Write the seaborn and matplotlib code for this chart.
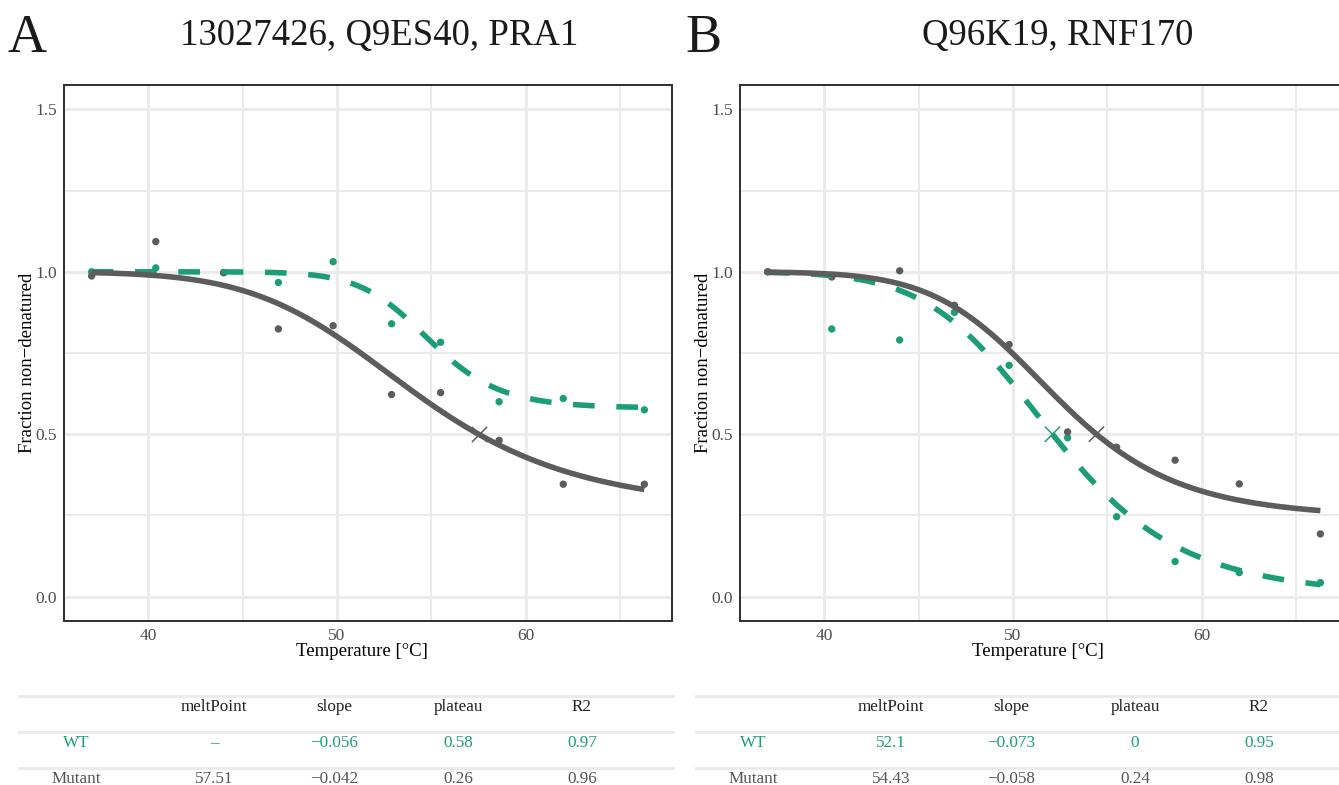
import numpy as np
import pandas as pd
import matplotlib
matplotlib.use("Agg")
import matplotlib.pyplot as plt
import seaborn as sns
from matplotlib.ticker import FixedLocator

# ---------------------------------------------------------------- data
temperature = [37.0, 40.4, 44.0, 46.9, 49.8, 52.9, 55.5, 58.6, 62.0, 66.3]

# Panel A: 13027426, Q9ES40, PRA1
a_wt = [1.000, 1.012, 0.998, 0.967, 1.031, 0.840, 0.783, 0.600, 0.610, 0.575]
a_mutant = [0.987, 1.093, 0.997, 0.824, 0.834, 0.622, 0.628, 0.481, 0.346, 0.346]

# Panel B: Q96K19, RNF170
b_wt = [1.000, 0.824, 0.790, 0.875, 0.712, 0.489, 0.246, 0.108, 0.074, 0.043]
b_mutant = [1.000, 0.984, 1.003, 0.897, 0.776, 0.507, 0.460, 0.420, 0.347, 0.193]

genotypes = ["WT", "Mutant"]

# melting-curve fit summaries (WT, Mutant)
a_melt_point = [None, 57.51]
a_slope = [-0.056, -0.042]
a_plateau = [0.58, 0.26]
a_r2 = [0.97, 0.96]
a_wt_inflection = 54.9  # WT never reaches 0.5, curve anchored at its inflection

b_melt_point = [52.1, 54.43]
b_slope = [-0.073, -0.058]
b_plateau = [0.0, 0.24]
b_r2 = [0.95, 0.98]

panel_titles = ["13027426, Q9ES40, PRA1", "Q96K19, RNF170"]
panel_letters = ["A", "B"]
table_header = ["", "meltPoint", "slope", "plateau", "R2"]

# ---------------------------------------------------------------- style
GREEN = "#1B9E77"
GREY = "#5C5C5C"
GRID = "#EBEBEB"
FRAME = "#333333"
TICKTXT = "#4D4D4D"
palette = {"WT": GREEN, "Mutant": GREY}

sns.set_theme(style="white")
plt.rcParams["font.family"] = ["Liberation Serif", "DejaVu Serif"]
plt.rcParams["axes.unicode_minus"] = True

W, H = 1339, 785
fig = plt.figure(figsize=(W / 100, H / 100), dpi=100)
fig.patch.set_facecolor("white")


def px_box(left, top, right, bottom):
    return [left / W, 1 - bottom / H, (right - left) / W, (bottom - top) / H]


def sigmoid_coeffs(slope, plateau, melt=None, infl=None):
    """Coefficients a, b of pl + (1-pl)/(1+exp(b - a/T)) from the fit summary."""
    k = 4 * abs(slope) / (1 - plateau)
    if melt is not None:
        c = np.log(0.5 / (0.5 - plateau))
        infl = (melt + np.sqrt(melt ** 2 - 4 * c * melt / k)) / 2
    b = k * infl
    a = b * infl
    return a, b


def melt_curve(t, a, b, plateau):
    return plateau + (1 - plateau) / (1 + np.exp(b - a / t))


def fmt(v):
    if v is None:
        return "\u2013"
    return f"{v:g}".replace("-", "\u2212")


panels = [
    dict(wt=a_wt, mut=a_mutant, melt=a_melt_point, slope=a_slope,
         plateau=a_plateau, r2=a_r2, infl=[a_wt_inflection, None]),
    dict(wt=b_wt, mut=b_mutant, melt=b_melt_point, slope=b_slope,
         plateau=b_plateau, r2=b_r2, infl=[None, None]),
]

axes_px = [(64, 85, 672, 621), (740, 85, 1348, 621)]
table_px = [(18, 690, 675, 800), (695, 690, 1352, 800)]
title_cx = [379, 1058]
letter_x = [7, 685]
AX_W, AX_H = 608, 536

t_fine = np.linspace(min(temperature), max(temperature), 400)

for i, p in enumerate(panels):
    ax = fig.add_axes(px_box(*axes_px[i]))
    ax.set_facecolor("white")

    points = pd.DataFrame({
        "Temperature": temperature * 2,
        "Fraction": p["wt"] + p["mut"],
        "Genotype": ["WT"] * len(temperature) + ["Mutant"] * len(temperature),
    })

    curves = []
    melts = []
    for g, gen in enumerate(genotypes):
        a, b = sigmoid_coeffs(p["slope"][g], p["plateau"][g],
                              melt=p["melt"][g], infl=p["infl"][g])
        curves.append(pd.DataFrame({
            "Temperature": t_fine,
            "Fraction": melt_curve(t_fine, a, b, p["plateau"][g]),
            "Genotype": gen,
        }))
        if p["melt"][g] is not None:
            melts.append({"Temperature": p["melt"][g], "Fraction": 0.5,
                          "Genotype": gen})
    curves = pd.concat(curves, ignore_index=True)

    sns.scatterplot(data=points, x="Temperature", y="Fraction", hue="Genotype",
                    hue_order=genotypes, palette=palette, s=28, linewidth=0,
                    legend=False, ax=ax, zorder=3)
    sns.lineplot(data=curves, x="Temperature", y="Fraction", hue="Genotype",
                 style="Genotype", hue_order=genotypes, style_order=genotypes,
                 palette=palette, dashes={"WT": (3.9, 3.9), "Mutant": ""},
                 linewidth=4.0, estimator=None, sort=True, legend=False,
                 ax=ax, zorder=4)
    if melts:
        mdf = pd.DataFrame(melts)
        sns.scatterplot(data=mdf, x="Temperature", y="Fraction", hue="Genotype",
                        hue_order=genotypes, palette=palette, marker="x",
                        s=120, linewidth=1.1, legend=False, ax=ax, zorder=5)

    for line in ax.get_lines():
        line.set_solid_capstyle("butt")
        line.set_dash_capstyle("butt")

    # scales
    ax.set_xlim(35.535, 67.765)
    ax.set_ylim(-0.075, 1.575)
    ax.xaxis.set_major_locator(FixedLocator([40, 50, 60]))
    ax.xaxis.set_minor_locator(FixedLocator([45, 55, 65]))
    ax.yaxis.set_major_locator(FixedLocator([0.0, 0.5, 1.0, 1.5]))
    ax.yaxis.set_minor_locator(FixedLocator([0.25, 0.75, 1.25]))
    ax.set_yticklabels(["0.0", "0.5", "1.0", "1.5"])
    ax.grid(which="major", color=GRID, linewidth=2.2, zorder=0)
    ax.grid(which="minor", color=GRID, linewidth=1.4, zorder=0)
    ax.set_axisbelow(True)

    ax.tick_params(axis="both", which="major", direction="out", length=3.2,
                   width=1.4, color=FRAME, labelcolor=TICKTXT, labelsize=12.5,
                   pad=2)
    ax.tick_params(axis="both", which="minor", length=0)
    for s in ax.spines.values():
        s.set_visible(True)
        s.set_color(FRAME)
        s.set_linewidth(1.45)

    ax.set_xlabel("Temperature [\u00b0C]", fontsize=13.5, color="black")
    ax.set_ylabel("Fraction non\u2212denatured", fontsize=13.5, color="black")
    ax.xaxis.set_label_coords(298 / AX_W, -31 / AX_H)
    ax.xaxis.label.set_va("center")
    ax.yaxis.set_label_coords(-36 / AX_W, 258 / AX_H)
    ax.yaxis.label.set_va("center")

    # title and panel letter
    fig.text(title_cx[i] / W, 1 - 45 / H, panel_titles[i], fontsize=26.5,
             ha="center", va="baseline", color="#1A1A1A")
    fig.text(letter_x[i] / W, 1 - 52 / H, panel_letters[i], fontsize=39,
             ha="left", va="baseline", color="#1A1A1A")

    # parameter table
    l, t, r, b = table_px[i]
    tax = fig.add_axes(px_box(l, t, r, b))
    tax.set_xlim(0, r - l)
    tax.set_ylim(b, t)
    tax.axis("off")
    for y in [695.5, 732.3, 768.3]:
        tax.axhline(y, color=GRID, linewidth=2.3, zorder=0)
    col_x = [58, 196, 316, 440, 564]
    rows = [
        (table_header, 707, "#222222"),
        (["WT", fmt(p["melt"][0]), fmt(p["slope"][0]), fmt(p["plateau"][0]),
          fmt(p["r2"][0])], 742.7, GREEN),
        (["Mutant", fmt(p["melt"][1]), fmt(p["slope"][1]), fmt(p["plateau"][1]),
          fmt(p["r2"][1])], 779.3, "#555555"),
    ]
    for cells, y, col in rows:
        for x, txt in zip(col_x, cells):
            tax.text(x, y, txt, ha="center", va="center", fontsize=12.3,
                     color=col)

fig.savefig("out.png", dpi=100)
